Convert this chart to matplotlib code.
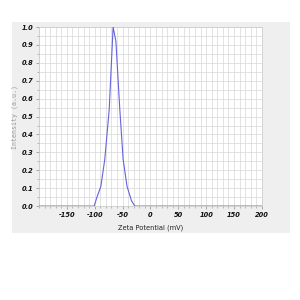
import matplotlib
matplotlib.use("Agg")
import matplotlib.pyplot as plt
from matplotlib.patches import Rectangle
from matplotlib.ticker import MultipleLocator

# zeta potential distribution
zeta = [-200, -101, -96, -89, -82, -74, -67, -62, -55, -49, -42, -34, -28, 200]
intensity = [0, 0, 0.05, 0.11, 0.26, 0.54, 1.0, 0.92, 0.54, 0.26, 0.11, 0.03, 0, 0]

xticks = [-150, -100, -50, 0, 50, 100, 150, 200]
yticks = [0.0, 0.1, 0.2, 0.3, 0.4, 0.5, 0.6, 0.7, 0.8, 0.9, 1.0]

fig = plt.figure(figsize=(3, 3), dpi=100)
fig.patch.set_facecolor("white")
# grey panel behind the plot
fig.patches.append(Rectangle((0.04, 0.222), 0.927, 0.705, transform=fig.transFigure,
                             facecolor="#efefef", edgecolor="none", zorder=-5))

ax = fig.add_axes([0.13, 0.313, 0.743, 0.597])
ax.set_zorder(2)
ax.set_facecolor("white")
ax.plot(zeta, intensity, color="#6464dc", linewidth=0.8, zorder=3)

ax.set_xlim(-200, 200)
ax.set_ylim(0, 1.0)
ax.set_xticks(xticks)
ax.set_yticks(yticks)
ax.set_xticklabels([str(t) for t in xticks])
ax.set_yticklabels(["%.1f" % t for t in yticks])
ax.xaxis.set_minor_locator(MultipleLocator(10))
ax.yaxis.set_minor_locator(MultipleLocator(0.05))

ax.grid(which="both", color="#d8d8d8", linewidth=0.5, zorder=0)
ax.set_axisbelow(True)

for s in ax.spines.values():
    s.set_color("#c8c8c8")
    s.set_linewidth(0.5)

ax.tick_params(which="major", length=2.5, width=0.5, color="#888888", pad=1.5)
ax.tick_params(which="minor", length=1.5, width=0.4, color="#888888")
for lab in ax.get_xticklabels() + ax.get_yticklabels():
    lab.set_fontsize(4.8)
    lab.set_fontweight("bold")
    lab.set_fontstyle("italic")
    lab.set_color("#111111")

ax.set_xlabel("Zeta Potential (mV)", fontsize=4.8, color="#222222", labelpad=5)
ax.set_ylabel("Intensity (a.u.)", fontsize=4.8, color="#999999",
              family="DejaVu Sans Mono", labelpad=3)

fig.savefig("out.png", dpi=100)
